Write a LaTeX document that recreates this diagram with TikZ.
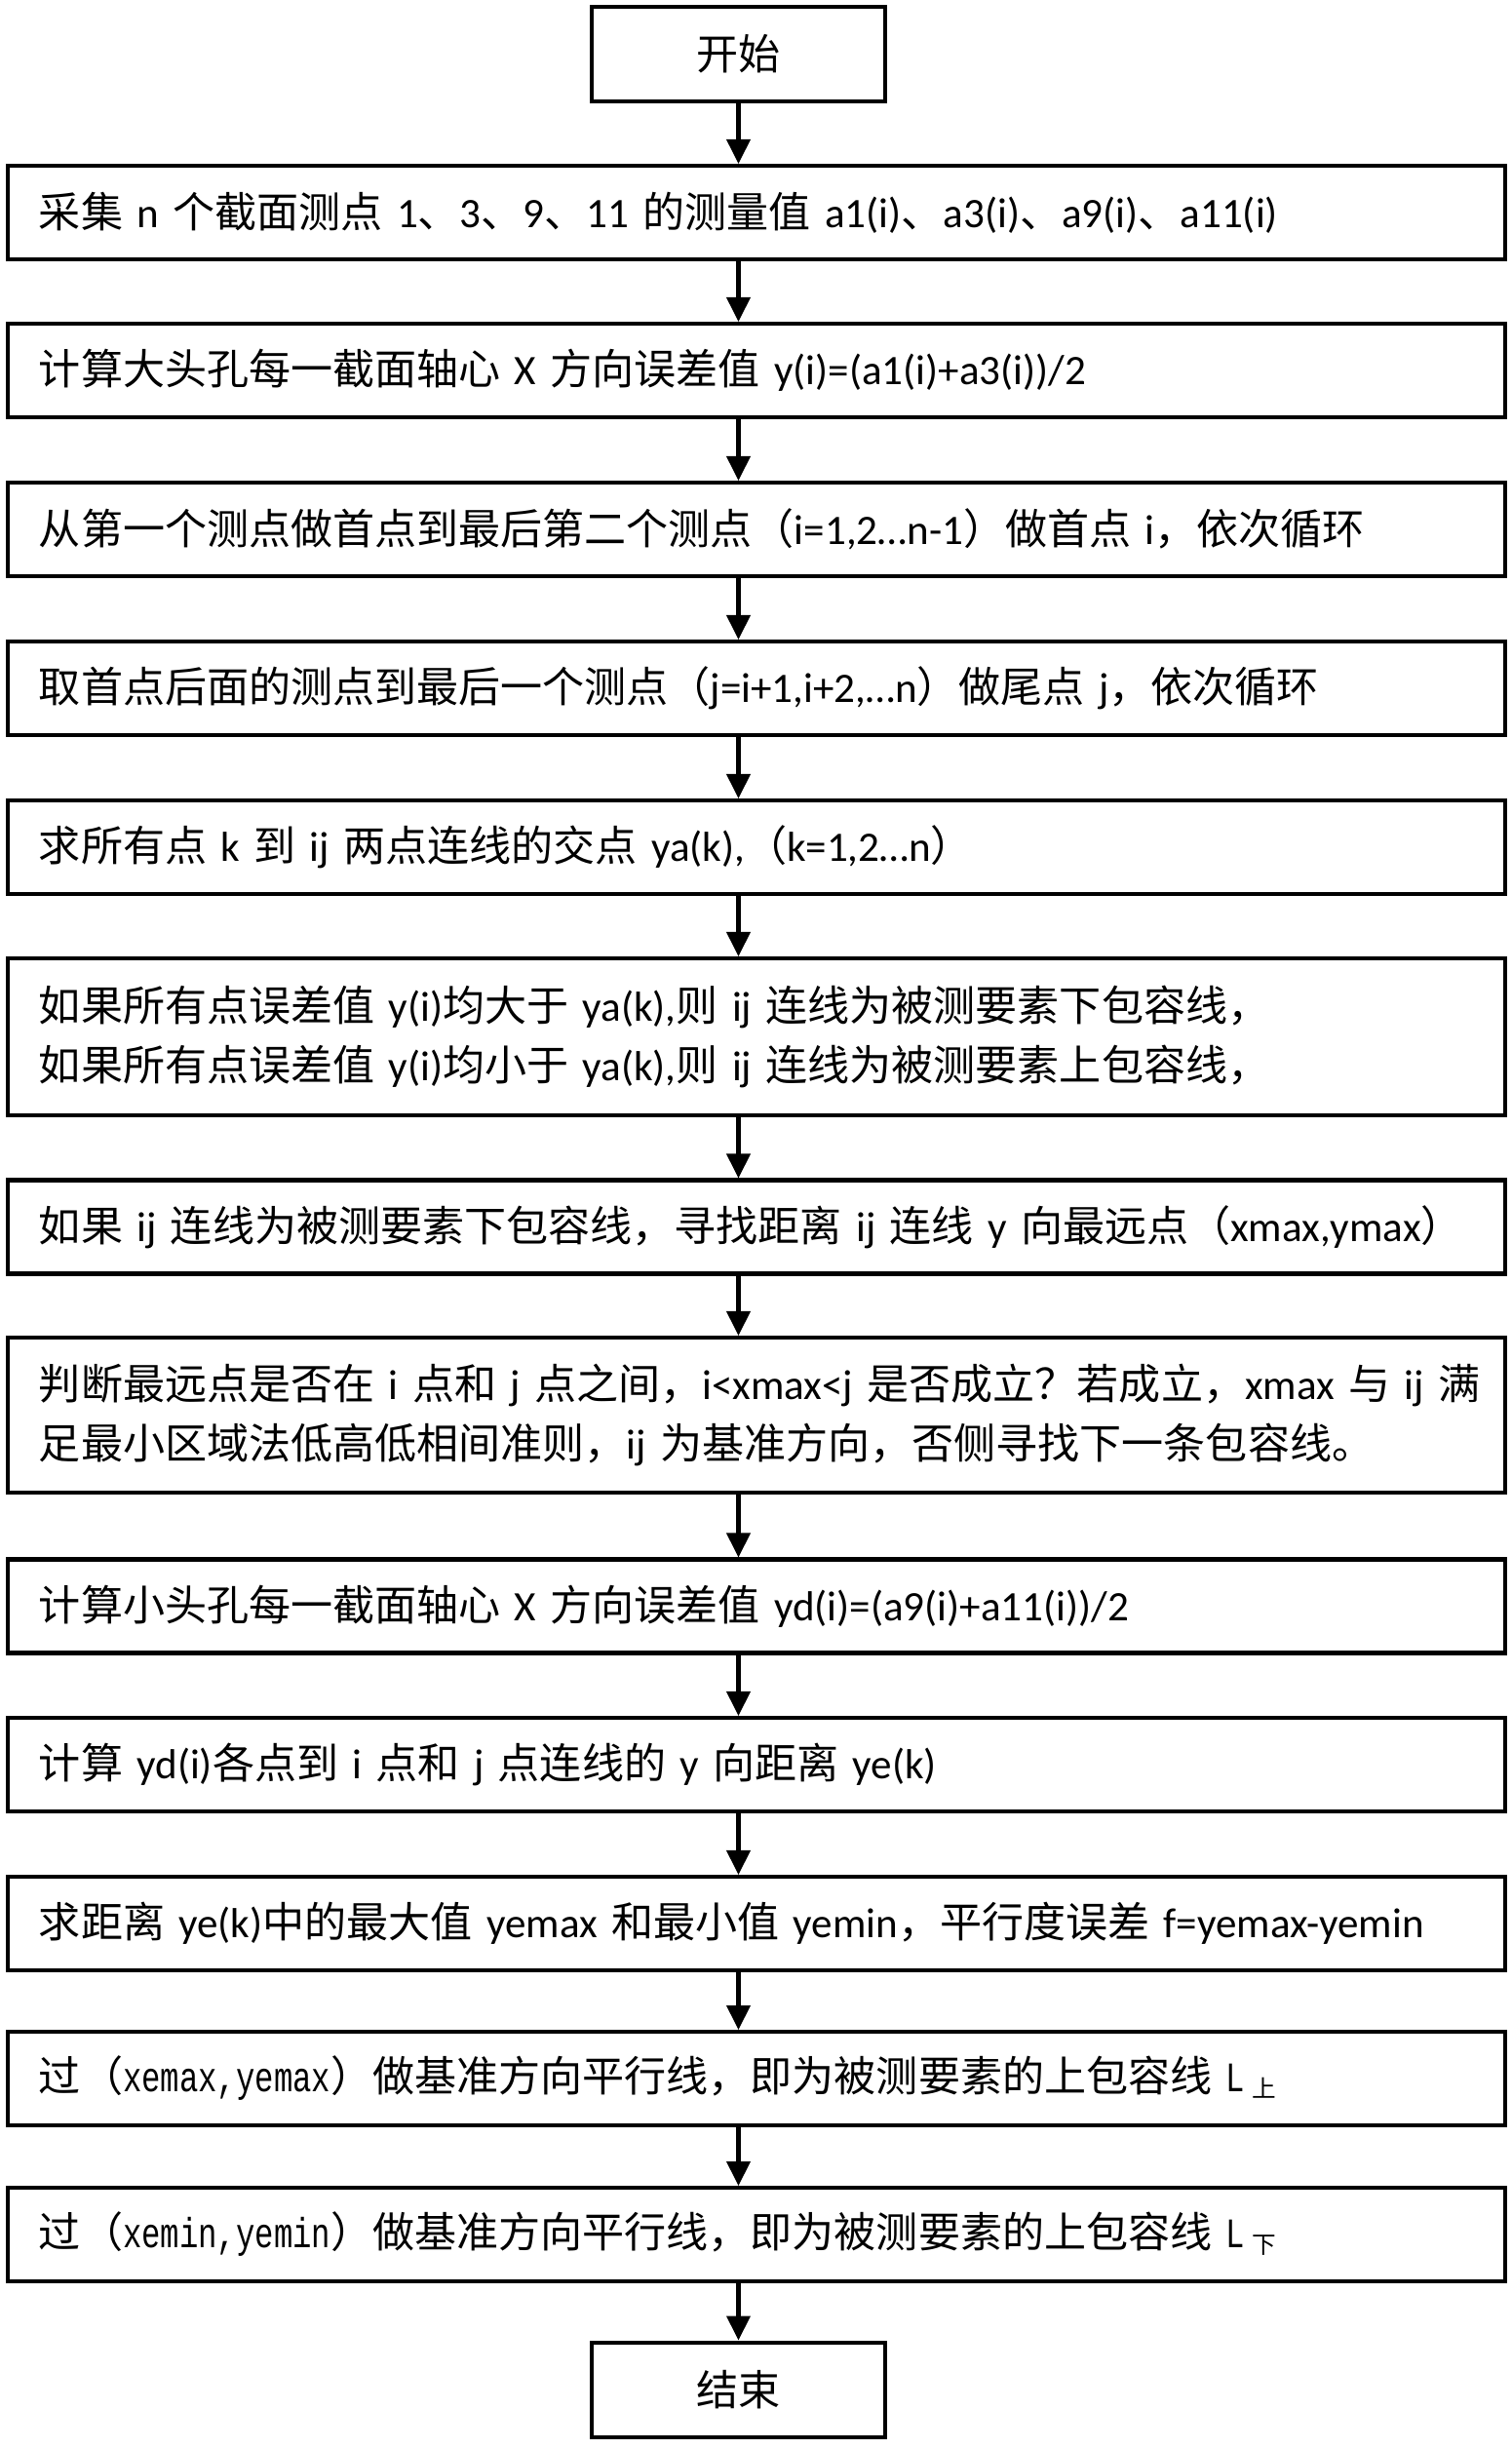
\documentclass[tikz,border=0pt]{standalone}
\usepackage{fontspec}
\usepackage{tikz}
\usetikzlibrary{positioning, arrows.meta}
\setmainfont{Carlito}
\newfontfamily\cjkfont{Noto Sans CJK SC}
\newfontfamily\narrowmono[FakeStretch=0.75]{Liberation Mono}

% switch to the CJK family for Chinese characters and full-width punctuation
\XeTeXinterchartokenstate=1
\newXeTeXintercharclass\cjkclass
\newcount\cjkcnt
\newcommand\setcjkrange[2]{%
  \cjkcnt=#1
  \loop
    \XeTeXcharclass\cjkcnt=\cjkclass
    \ifnum\cjkcnt<#2 \advance\cjkcnt by 1 \repeat}
\setcjkrange{"3000}{"303F}
\setcjkrange{"4E00}{"9FFF}
\setcjkrange{"FF00}{"FFEF}
\XeTeXinterchartoks 0 \cjkclass={\cjkfont}
\XeTeXinterchartoks 4095 \cjkclass={\cjkfont}
\XeTeXinterchartoks \cjkclass 0={\rmfamily}
\XeTeXinterchartoks \cjkclass 4095={\rmfamily}

\newcommand\narrowtxt[1]{{\XeTeXinterchartokenstate=0 \narrowmono #1}}
\newcommand\sublabel[1]{\,{\fontsize{7pt}{7pt}\selectfont\raisebox{-0.5ex}{#1}}}

\begin{document}
\begin{tikzpicture}[
    font=\fontsize{12.25pt}{17.6pt}\selectfont,
    block/.style={rectangle, draw, line width=1.15pt, minimum width=15.36cm,
                  minimum height=0.96cm, text width=14.72cm, inner xsep=0.32cm, align=left},
    term/.style={rectangle, draw, line width=1.15pt, minimum width=3.01cm, minimum height=0.97cm},
    arrow/.style={-{Triangle[length=0.25cm, width=0.24cm]}, line width=1.15pt}
]
    \useasboundingbox (0,0) rectangle (15.51,-25.12);

    % Start and end
    \node[term] (start) at (7.575,-0.555) {开始};
    \node[term] (stop) at (7.575,-24.51) {结束};

    % Steps
    \node[block] (collect) at (7.76,-2.18) {采集 n 个截面测点 1、3、9、11 的测量值 a1(i)、a3(i)、a9(i)、a11(i)};
    \node[block] (bigaxis) at (7.76,-3.80) {计算大头孔每一截面轴心 X 方向误差值 y(i)=(a1(i)+a3(i))/2};
    \node[block] (firsti) at (7.76,-5.43) {从第一个测点做首点到最后第二个测点（i=1,2…n-1）做首点 i，依次循环};
    \node[block] (lastj) at (7.76,-7.06) {取首点后面的测点到最后一个测点（j=i+1,i+2,…n）做尾点 j，依次循环};
    \node[block] (cross) at (7.76,-8.69) {求所有点 k 到 ij 两点连线的交点 ya(k),（k=1,2…n）};
    \node[block, minimum height=1.61cm] (bound) at (7.76,-10.635)
        {如果所有点误差值 y(i)均大于 ya(k),则 ij 连线为被测要素下包容线，\\
         如果所有点误差值 y(i)均小于 ya(k),则 ij 连线为被测要素上包容线，};
    \node[block] (farthest) at (7.76,-12.585) {如果 ij 连线为被测要素下包容线，寻找距离 ij 连线 y 向最远点（xmax,ymax）};
    \node[block, minimum height=1.59cm] (judge) at (7.76,-14.515)
        {\mbox{判断最远点是否在 i 点和 j 点之间，i<xmax<j 是否成立？若成立，xmax 与 ij 满}\\
         足最小区域法低高低相间准则，ij 为基准方向，否侧寻找下一条包容线。};
    \node[block] (smallaxis) at (7.76,-16.475) {计算小头孔每一截面轴心 X 方向误差值 yd(i)=(a9(i)+a11(i))/2};
    \node[block] (dist) at (7.76,-18.10) {计算 yd(i)各点到 i 点和 j 点连线的 y 向距离 ye(k)};
    \node[block] (parallel) at (7.76,-19.73) {求距离 ye(k)中的最大值 yemax 和最小值 yemin，平行度误差 f=yemax-yemin};
    \node[block] (upline) at (7.76,-21.32) {过（\narrowtxt{xemax,yemax}）做基准方向平行线，即为被测要素的上包容线 \narrowtxt{L}\sublabel{上}};
    \node[block] (lowline) at (7.76,-22.92) {过（\narrowtxt{xemin,yemin}）做基准方向平行线，即为被测要素的上包容线 \narrowtxt{L}\sublabel{下}};

    % Connections
    \draw[arrow] (start) -- (start |- collect.north);
    \draw[arrow] (collect.south -| start) -- (bigaxis.north -| start);
    \draw[arrow] (bigaxis.south -| start) -- (firsti.north -| start);
    \draw[arrow] (firsti.south -| start) -- (lastj.north -| start);
    \draw[arrow] (lastj.south -| start) -- (cross.north -| start);
    \draw[arrow] (cross.south -| start) -- (bound.north -| start);
    \draw[arrow] (bound.south -| start) -- (farthest.north -| start);
    \draw[arrow] (farthest.south -| start) -- (judge.north -| start);
    \draw[arrow] (judge.south -| start) -- (smallaxis.north -| start);
    \draw[arrow] (smallaxis.south -| start) -- (dist.north -| start);
    \draw[arrow] (dist.south -| start) -- (parallel.north -| start);
    \draw[arrow] (parallel.south -| start) -- (upline.north -| start);
    \draw[arrow] (upline.south -| start) -- (lowline.north -| start);
    \draw[arrow] (lowline.south -| start) -- (stop);
\end{tikzpicture}
\end{document}
